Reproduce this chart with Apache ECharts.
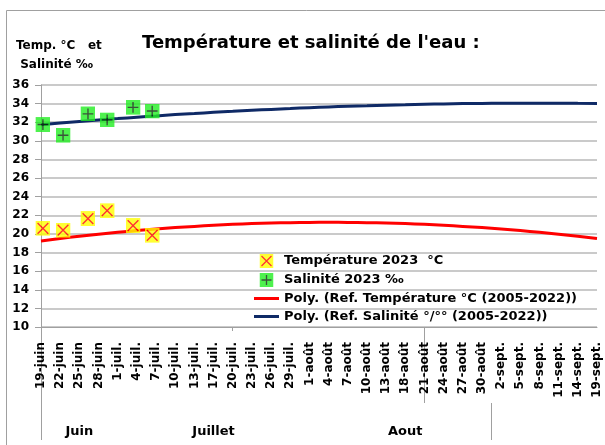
<!DOCTYPE html>
<html>
<head>
<meta charset="utf-8">
<script src="https://cdn.jsdelivr.net/npm/echarts@6/dist/echarts.min.js"></script>
<style>
  html, body { margin: 0; padding: 0; background: #fff; }
  #chart { width: 605px; height: 445px; }
</style>
</head>
<body>
<div id="chart"></div>
<script>
// categories of the x axis
var days = ['19-juin', '22-juin', '25-juin', '28-juin',
    '1-juil.', '4-juil.', '7-juil.', '10-juil.', '13-juil.', '17-juil.', '20-juil.', '23-juil.', '26-juil.', '29-juil.',
    '1-août', '4-août', '7-août', '10-août', '13-août', '18-août', '21-août', '24-août', '27-août', '30-août',
    '2-sept.', '5-sept.', '8-sept.', '11-sept.', '14-sept.', '19-sept.'];
// months (name, nb of days in the axis)
var months = ['Juin', 'Juillet', 'Aout', ''];
var monthCounts = [4, 10, 10, 6];

// mesures 2023 (position in the axis, value)
var mesureX = [0.1, 1.15, 2.45, 3.45, 4.8, 5.8];
var temp2023 = [20.6, 20.4, 21.65, 22.5, 20.9, 19.85];
var sal2023 = [31.75, 30.6, 32.9, 32.25, 33.6, 33.2];

// courbes de reference (poly.)
var refTemp = [19.25, 19.51, 19.75, 19.97, 20.17, 20.36, 20.53, 20.68, 20.81, 20.93,
    21.03, 21.11, 21.17, 21.21, 21.24, 21.25, 21.24, 21.21, 21.17, 21.11,
    21.03, 20.93, 20.81, 20.68, 20.53, 20.36, 20.17, 19.97, 19.75, 19.51];
var refSal = [31.74, 31.91, 32.08, 32.24, 32.39, 32.54, 32.68, 32.82, 32.94, 33.06,
    33.17, 33.28, 33.38, 33.47, 33.56, 33.64, 33.71, 33.77, 33.83, 33.88,
    33.93, 33.96, 34.00, 34.02, 34.04, 34.05, 34.05, 34.05, 34.04, 34.02];

var FONT = '"DejaVu Sans", sans-serif';

function svgSymbol(svg) {
    return 'image://data:image/svg+xml;charset=utf-8,' + encodeURIComponent(svg);
}
var symTemp = svgSymbol('<svg xmlns="http://www.w3.org/2000/svg" width="14" height="14">' +
    '<rect width="14" height="14" fill="#ffff00"/>' +
    '<path d="M2 2L12 12M12 2L2 12" stroke="#ff0000" stroke-width="1.3"/></svg>');
var symSal = svgSymbol('<svg xmlns="http://www.w3.org/2000/svg" width="14" height="14">' +
    '<rect width="14" height="14" fill="#22ee22"/>' +
    '<path d="M7 2V12M2 7H12" stroke="#0a2a0a" stroke-width="1.3"/></svg>');
var lineIcon = 'path://M0 0H100V12H0Z';

// centre de chaque mois sur l'axe
var monthCenters = [];
var start = 0;
for (var i = 0; i < monthCounts.length; i++) {
    monthCenters.push(start + monthCounts[i] / 2);
    start += monthCounts[i];
}
var monthSep = monthCounts[0] + monthCounts[1] + monthCounts[2] - 0.5;

function pairs(xs, ys) {
    return xs.map(function (x, k) { return [x, ys[k]]; });
}

var nameTemp = 'Température 2023  °C';
var nameSal = 'Salinité 2023 ‰';
var nameRefTemp = 'Poly. (Ref. Température °C (2005-2022))';
var nameRefSal = 'Poly. (Ref. Salinité °/°° (2005-2022))';

var option = {
    animation: false,
    backgroundColor: '#fff',
    textStyle: { fontFamily: FONT },
    graphic: [{
        type: 'rect',
        shape: { x: 6.5, y: 10.5, width: 700, height: 500 },
        style: { fill: 'none', stroke: '#a0a0a0', lineWidth: 1 }
    }],
    title: [{
        text: "Température et salinité de l'eau :",
        left: 137, top: 29,
        textStyle: { fontFamily: FONT, fontSize: 18, fontWeight: 'bold', color: '#000' }
    }, {
        text: 'Temp. °C   et\n Salinité ‰',
        left: 11, top: 31,
        textStyle: { fontFamily: FONT, fontSize: 12, fontWeight: 'bold', color: '#000', lineHeight: 19 }
    }],
    legend: {
        orient: 'vertical',
        left: 254, top: 254,
        padding: 0,
        itemWidth: 25, itemHeight: 14, itemGap: 5,
        textStyle: { fontFamily: FONT, fontSize: 13, fontWeight: 'bold', color: '#000' },
        data: [nameTemp, nameSal,
            { name: nameRefTemp, icon: lineIcon },
            { name: nameRefSal, icon: lineIcon }]
    },
    grid: { left: 41, right: 8, top: 85, bottom: 118 },
    xAxis: [{
        type: 'category',
        data: days,
        boundaryGap: false,
        position: 'bottom',
        axisLine: { lineStyle: { color: '#a0a0a0' } },
        axisTick: { show: true, length: 4, interval: function (idx) { return idx === 10; }, lineStyle: { color: '#a0a0a0' } },
        axisLabel: {
            rotate: 90, interval: 0, margin: 15,
            fontFamily: FONT, fontSize: 12, fontWeight: 'bold', color: '#000'
        }
    }, {
        type: 'value',
        min: 0, max: days.length - 1,
        position: 'bottom',
        axisLine: { show: false },
        splitLine: { show: false },
        axisLabel: { show: false },
        axisTick: { show: true, length: 76, customValues: [0, 20], lineStyle: { color: '#a0a0a0' } }
    }, {
        type: 'value',
        min: 0, max: days.length - 1,
        position: 'bottom',
        offset: 76,
        axisLine: { show: false },
        splitLine: { show: false },
        axisTick: { show: true, length: 37, customValues: [0, monthSep], lineStyle: { color: '#a0a0a0' } },
        axisLabel: {
            customValues: monthCenters.slice(0, 3),
            margin: 22,
            fontFamily: FONT, fontSize: 13, fontWeight: 'bold', color: '#000',
            formatter: function (v) {
                var k = monthCenters.indexOf(v);
                return k >= 0 ? months[k] : '';
            }
        }
    }],
    yAxis: {
        type: 'value',
        min: 10, max: 36, interval: 2,
        axisLine: { show: true, lineStyle: { color: '#a0a0a0' } },
        axisTick: { show: true, length: 6, lineStyle: { color: '#a0a0a0' } },
        axisLabel: { margin: 12, fontFamily: FONT, fontSize: 12, fontWeight: 'bold', color: '#000' },
        splitLine: { lineStyle: { color: '#b8b8b8', width: 1.5 } }
    },
    series: [{
        name: nameTemp,
        type: 'scatter',
        xAxisIndex: 1,
        symbol: symTemp,
        symbolSize: 15,
        data: pairs(mesureX, temp2023),
        z: 5
    }, {
        name: nameSal,
        type: 'scatter',
        xAxisIndex: 1,
        symbol: symSal,
        symbolSize: 15,
        data: pairs(mesureX, sal2023),
        z: 5
    }, {
        name: nameRefTemp,
        type: 'line',
        xAxisIndex: 0,
        smooth: true,
        showSymbol: false,
        color: '#ff0000',
        lineStyle: { color: '#ff0000', width: 3 },
        data: refTemp,
        z: 3
    }, {
        name: nameRefSal,
        type: 'line',
        xAxisIndex: 0,
        smooth: true,
        showSymbol: false,
        color: '#0f2a66',
        lineStyle: { color: '#0f2a66', width: 3 },
        data: refSal,
        z: 3
    }]
};

var mychart = echarts.init(document.getElementById('chart'));
mychart.setOption(option);
</script>
</body>
</html>
